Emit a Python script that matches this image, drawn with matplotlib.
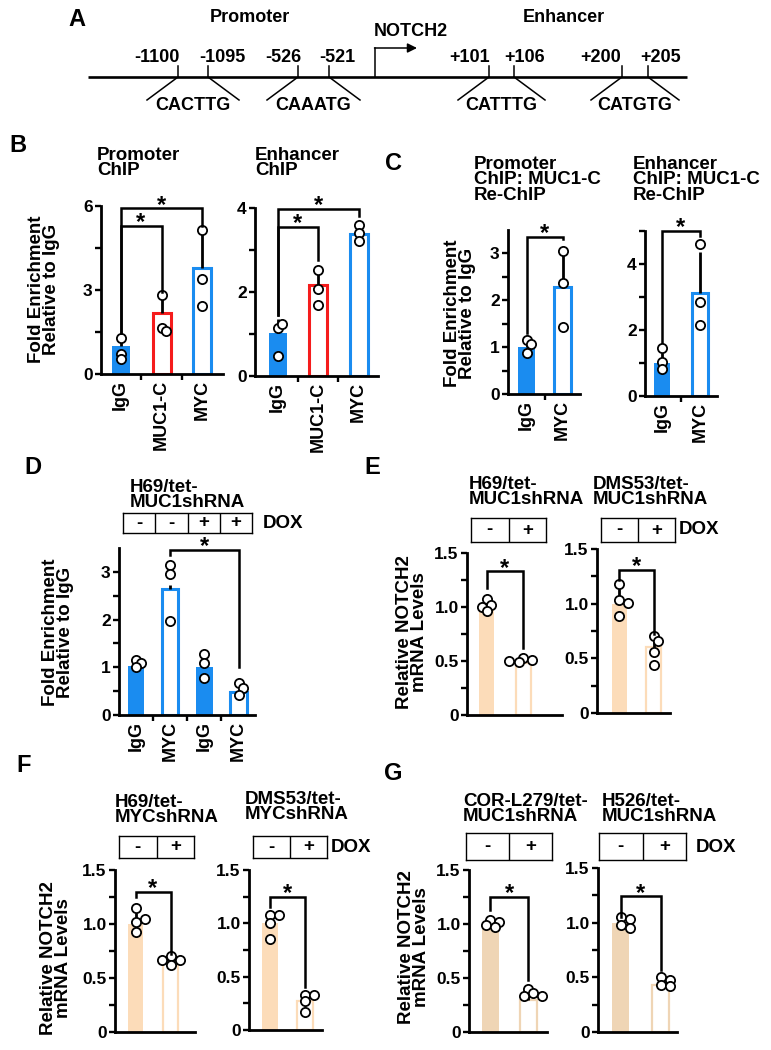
import matplotlib
matplotlib.use('Agg')
import matplotlib.pyplot as plt
import numpy as np

plt.rcParams['font.family'] = ['Liberation Sans', 'DejaVu Sans']
plt.rcParams['font.weight'] = 'bold'

# ---------------- data ----------------
# Panel A
a_regions = ["Promoter", "Enhancer"]
a_gene = "NOTCH2"
a_sites = ["-1100", "-1095", "-526", "-521", "+101", "+106", "+200", "+205"]
a_motifs = ["CACTTG", "CAAATG", "CATTTG", "CATGTG"]

# Panel B
b_cats = ["IgG", "MUC1-C", "MYC"]
b_prom_title = "Promoter\nChIP"
b_prom_mean = [1.0, 2.17, 3.79]
b_prom_sd = [0.3, 0.65, 1.3]
b_prom_pts = [[1.3, 0.72, 0.52], [2.82, 1.66, 1.52], [5.16, 3.39, 2.42]]
b_enh_title = "Enhancer\nChIP"
b_enh_mean = [1.02, 2.17, 3.38]
b_enh_sd = [0.33, 0.3, 0.2]
b_enh_pts = [[1.14, 1.24, 0.47], [2.52, 2.07, 1.69], [3.6, 3.4, 3.22]]

# Panel C
c_cats = ["IgG", "MYC"]
c_prom_title = "Promoter\nChIP: MUC1-C\nRe-ChIP"
c_prom_mean = [1.0, 2.28]
c_prom_sd = [0.1, 0.75]
c_prom_pts = [[1.15, 1.07, 0.87], [3.05, 2.37, 1.43]]
c_enh_title = "Enhancer\nChIP: MUC1-C\nRe-ChIP"
c_enh_mean = [1.0, 3.12]
c_enh_sd = [0.3, 1.25]
c_enh_pts = [[1.44, 1.02, 0.81], [4.6, 2.86, 2.14]]

# Panel D
d_title = "H69/tet-\nMUC1shRNA"
d_cats = ["IgG", "MYC", "IgG", "MYC"]
d_dox = ["-", "-", "+", "+"]
d_mean = [1.02, 2.65, 1.01, 0.48]
d_sd = [0.05, 0.08, 0.08, 0.05]
d_pts = [[1.15, 1.08, 1.0], [3.15, 2.95, 1.98], [1.28, 1.09, 0.78], [0.67, 0.57, 0.42]]

# Panels E-G (DOX - / +)
dox2 = ["-", "+"]
e1_title = "H69/tet-\nMUC1shRNA"
e1_mean = [1.0, 0.48]
e1_sd = [0.03, 0.02]
e1_pts = [[1.07, 1.02, 1.0, 0.96], [0.53, 0.51, 0.49, 0.5]]
e2_title = "DMS53/tet-\nMUC1shRNA"
e2_mean = [1.0, 0.6]
e2_sd = [0.13, 0.1]
e2_pts = [[1.18, 1.03, 1.01, 0.89], [0.7, 0.66, 0.56, 0.44]]
f1_title = "H69/tet-\nMYCshRNA"
f1_mean = [1.0, 0.64]
f1_sd = [0.1, 0.06]
f1_pts = [[1.15, 1.02, 1.05, 0.93], [0.7, 0.67, 0.67, 0.62]]
f2_title = "DMS53/tet-\nMYCshRNA"
f2_mean = [1.0, 0.27]
f2_sd = [0.08, 0.06]
f2_pts = [[1.08, 1.08, 1.0, 0.85], [0.33, 0.33, 0.27, 0.17]]
g1_title = "COR-L279/tet-\nMUC1shRNA"
g1_mean = [1.0, 0.3]
g1_sd = [0.03, 0.03]
g1_pts = [[1.04, 1.02, 0.99, 0.97], [0.4, 0.36, 0.33, 0.33]]
g2_title = "H526/tet-\nMUC1shRNA"
g2_mean = [1.0, 0.43]
g2_sd = [0.04, 0.04]
g2_pts = [[1.05, 1.03, 0.98, 0.95], [0.5, 0.48, 0.43, 0.42]]

fe_label = "Fold Enrichment\nRelative to IgG"
mrna_label = "Relative NOTCH2\nmRNA Levels"

# ---------------- style ----------------
BLUE = '#1a8cf0'
RED = '#f51c1c'
PEACH = '#fcdcb9'
TAN = '#efd5b5'
W, H = 771, 1050
fig = plt.figure(figsize=(W / 100, H / 100), dpi=100)
DIAM = 9.0  # marker diameter px


def swarm(vals, ppy, ppx):
    placed, offs = [], []
    for v in vals:
        y = v * ppy
        x = 0.0
        for k in [0, 1, -1, 2, -2, 3, -3]:
            x = k * 0.5 * DIAM
            if all((x - a) ** 2 + (y - b) ** 2 >= (0.62 * DIAM) ** 2 for a, b in placed):
                break
        placed.append((x, y))
        offs.append(x / ppx)
    return offs


def panel(x0, x1, y0, ytop, ymax, cfirst, clast, bw_px, means, sds, pts, faces, edges,
          major, minor, ticklabels=None, cats=None, brackets=(), elw=2.0):
    n = len(means)
    ax = fig.add_axes([x0 / W, 1 - y0 / H, (x1 - x0) / W, (y0 - ytop) / H])
    ax.patch.set_alpha(0)
    unit = (clast - cfirst) / (n - 1)
    ax.set_xlim((x0 - cfirst) / unit, (x1 - cfirst) / unit)
    ax.set_ylim(0, ymax)
    ppy = (y0 - ytop) / ymax
    for s in ['top', 'right']:
        ax.spines[s].set_visible(False)
    for s in ['left', 'bottom']:
        ax.spines[s].set_linewidth(2.0)
    ax.set_yticks(major)
    ax.set_yticklabels(ticklabels if ticklabels else [f"{v:g}" for v in major])
    ax.set_yticks(minor, minor=True)
    ax.tick_params(axis='y', which='both', direction='out', length=4, width=1.7,
                   labelsize=12.5, pad=2)
    bw = bw_px / unit
    for i in range(n):
        hollow = faces[i] == 'white'
        ax.bar(i, means[i], width=bw, color=faces[i],
               edgecolor=edges[i] if hollow else 'none',
               linewidth=elw if hollow else 0, zorder=2)
        ax.errorbar(i, means[i], yerr=[[0], [sds[i]]], fmt='none', ecolor='black',
                    elinewidth=2, capsize=0, zorder=3)
        offs = swarm(pts[i], ppy, unit)
        ax.scatter(np.array(offs) + i, pts[i], s=44, facecolor='white', edgecolor='black',
                   linewidths=1.3, zorder=4, clip_on=False)
    if cats:
        ax.set_xticks(range(n))
        ax.set_xticklabels(cats, rotation=90, fontsize=13)
        ax.set_xticks([i + 0.5 for i in range(n - 1)], minor=True)
        ax.tick_params(axis='x', which='major', length=0, pad=4)
        ax.tick_params(axis='x', which='minor', direction='out', length=4, width=1.7)
    else:
        ax.set_xticks([])
    for a, b, yb, la, lb in brackets:
        ax.plot([a, a, b, b], [la, yb, yb, lb], color='black', lw=1.8, clip_on=False,
                zorder=5, solid_joinstyle='miter')
        ax.annotate('*', xy=((a + b) / 2, yb), xytext=(0, -2.5), textcoords='offset points',
                    ha='center', va='baseline', fontsize=17, annotation_clip=False)
    return ax


def dox_box(x0, x1, ya, yb, labels):
    n = len(labels)
    bx = fig.add_axes([x0 / W, 1 - yb / H, (x1 - x0) / W, (yb - ya) / H])
    bx.set_xlim(0, n)
    bx.set_ylim(0, 1)
    bx.set_xticks([])
    bx.set_yticks([])
    for s in bx.spines.values():
        s.set_linewidth(1.0)
    for i in range(1, n):
        bx.axvline(i, color='black', lw=1.0)
    for i, lab in enumerate(labels):
        bx.text(i + 0.5, 0.5, lab, ha='center', va='center', fontsize=13.5)


# ---------------- Panel B ----------------
panel(101, 223, 374, 206, 6, 120.5, 202.5, 18, b_prom_mean, b_prom_sd, b_prom_pts,
      [BLUE, 'white', 'white'], [BLUE, RED, BLUE], [0, 3, 6], [1.5, 4.5], cats=b_cats,
      brackets=[(0, 1, 5.3, 1.45, 2.92), (0, 2, 5.92, 1.45, 5.3)], elw=2.2)
panel(255, 378, 376, 208, 4, 277.5, 358.5, 18, b_enh_mean, b_enh_sd, b_enh_pts,
      [BLUE, 'white', 'white'], [BLUE, RED, BLUE], [0, 2, 4], [1, 3], cats=b_cats,
      brackets=[(0, 1, 3.55, 1.45, 2.75), (0, 2, 3.98, 1.45, 3.8)], elw=2.2)

# ---------------- Panel C ----------------
panel(508, 580, 394, 394 - 3.5 * 47, 3.5, 526.5, 562.5, 17, c_prom_mean, c_prom_sd, c_prom_pts,
      [BLUE, 'white'], [BLUE, BLUE], [0, 1, 2, 3], [0.5, 1.5, 2.5], cats=c_cats,
      brackets=[(0, 1, 3.34, 1.3, 3.3)], elw=2.2)
panel(645, 717, 396, 231, 5, 662, 700, 16, c_enh_mean, c_enh_sd, c_enh_pts,
      [BLUE, 'white'], [BLUE, BLUE], [0, 2, 4], [1, 3, 5], cats=c_cats,
      brackets=[(0, 1, 5.0, 1.65, 4.85)], elw=2.2)

# ---------------- Panel D ----------------
panel(119, 255, 715, 715 - 3.5 * 47.7, 3.5, 136, 238.5, 16.5, d_mean, d_sd, d_pts,
      [BLUE, 'white', BLUE, 'white'], [BLUE] * 4, [0, 1, 2, 3], [0.5, 1.5, 2.5], cats=d_cats,
      brackets=[(1, 3, 3.46, 3.35, 1.0)], elw=2.2)
dox_box(123, 252, 513, 533, d_dox)

# ---------------- Panels E, F, G ----------------
mlab = ["0", "0.5", "1.0", "1.5"]
mmaj = [0, 0.5, 1.0, 1.5]
mmin = [0.25, 0.75, 1.25]
panel(467, 562, 715, 553, 1.5, 487, 523, 15, e1_mean, e1_sd, e1_pts, [PEACH, 'white'],
      [PEACH, PEACH], mmaj, mmin, mlab, brackets=[(0, 1, 1.33, 1.18, 0.62)], elw=1.6)
panel(597, 670, 713, 549, 1.5, 619, 653.5, 15, e2_mean, e2_sd, e2_pts, [PEACH, 'white'],
      [PEACH, PEACH], mmaj, mmin, mlab, brackets=[(0, 1, 1.31, 1.22, 0.72)], elw=1.6)
dox_box(471, 546, 518, 542, dox2)
dox_box(601, 675, 518, 542, dox2)

panel(115, 195, 1032, 870, 1.5, 135.5, 170.5, 15, f1_mean, f1_sd, f1_pts, [PEACH, 'white'],
      [PEACH, PEACH], mmaj, mmin, mlab, brackets=[(0, 1, 1.3, 1.25, 0.72)], elw=1.6)
panel(249, 322, 1030, 870, 1.5, 270, 305, 16, f2_mean, f2_sd, f2_pts, [PEACH, 'white'],
      [PEACH, PEACH], mmaj, mmin, mlab, brackets=[(0, 1, 1.25, 1.15, 0.4)], elw=1.6)
dox_box(119, 194, 836, 858, dox2)
dox_box(253, 327, 836, 858, dox2)

panel(469, 547, 1032, 870, 1.5, 490.5, 528.5, 17, g1_mean, g1_sd, g1_pts, [TAN, 'white'],
      [TAN, TAN], mmaj, mmin, mlab, brackets=[(0, 1, 1.25, 1.13, 0.48)], elw=1.6)
panel(598, 677, 1032, 868, 1.5, 620.5, 660.5, 17, g2_mean, g2_sd, g2_pts, [TAN, 'white'],
      [TAN, TAN], mmaj, mmin, mlab, brackets=[(0, 1, 1.24, 1.05, 0.57)], elw=1.6)
dox_box(466, 552, 833, 860, dox2)
dox_box(599, 686, 833, 860, dox2)

# ---------------- overlay (pixel coordinates) ----------------
ov = fig.add_axes([0, 0, 1, 1])
ov.set_xlim(0, W)
ov.set_ylim(H, 0)
ov.axis('off')
ov.patch.set_alpha(0)

# Panel A schematic
tick_x = [178, 208, 298, 329, 489, 514, 622, 648]
label_x = [157, 222, 283, 337, 470, 525, 601, 661]
ov.plot([88, 687], [77, 77], color='black', lw=1.9, solid_capstyle='butt')
for x, lab, lx in zip(tick_x, a_sites, label_x):
    ov.plot([x, x], [66, 77], color='black', lw=1.1)
    ov.text(lx, 57, lab, ha='center', va='center', fontsize=13)
for j, motif in enumerate(a_motifs):
    xl, xr = tick_x[2 * j], tick_x[2 * j + 1]
    ov.plot([xl, xl - 31], [77, 100], color='black', lw=1.1)
    ov.plot([xr, xr + 31], [77, 100], color='black', lw=1.1)
    ov.text((xl + xr) / 2, 106, motif, ha='center', va='center', fontsize=13)
ov.plot([375, 375], [77, 48], color='black', lw=1.1)
ov.annotate('', xy=(417, 48), xytext=(374.5, 48),
            arrowprops=dict(arrowstyle='-|>', lw=1.1, color='black', mutation_scale=14,
                            shrinkA=0, shrinkB=0))
ov.text(411, 31, a_gene, ha='center', va='center', fontsize=13)
ov.text(250, 17, a_regions[0], ha='center', va='center', fontsize=13)
ov.text(564, 17, a_regions[1], ha='center', va='center', fontsize=13)

# panel letters
for letter, (x, y) in zip("ABCDEFG", [(77, 20), (18, 145), (394, 163), (33, 467),
                                      (372, 467), (24, 765), (393, 773)]):
    ov.text(x, y, letter, ha='center', va='center', fontsize=17)

# titles
TS = 13.5
LS = 0.92
ov.text(97, 163, b_prom_title, ha='left', va='center', fontsize=TS, linespacing=LS)
ov.text(255, 163, b_enh_title, ha='left', va='center', fontsize=TS, linespacing=LS)
ov.text(474, 180, c_prom_title, ha='left', va='center', fontsize=TS, linespacing=LS)
ov.text(633, 180, c_enh_title, ha='left', va='center', fontsize=TS, linespacing=LS)
ov.text(130, 495, d_title, ha='left', va='center', fontsize=TS, linespacing=LS)
ov.text(469, 492, e1_title, ha='left', va='center', fontsize=TS, linespacing=LS)
ov.text(593, 492, e2_title, ha='left', va='center', fontsize=TS, linespacing=LS)
ov.text(115, 810, f1_title, ha='left', va='center', fontsize=TS, linespacing=LS)
ov.text(245, 807, f2_title, ha='left', va='center', fontsize=TS, linespacing=LS)
ov.text(463, 809, g1_title, ha='left', va='center', fontsize=TS, linespacing=LS)
ov.text(602, 809, g2_title, ha='left', va='center', fontsize=TS, linespacing=LS)

# DOX labels
for x, y in [(263, 523), (679, 530), (331, 847), (696, 847)]:
    ov.text(x, y, "DOX", ha='left', va='center', fontsize=TS)

# y labels
for x, y, lab in [(44, 289, fe_label), (460, 313, fe_label), (58, 632, fe_label),
                  (412, 632, mrna_label), (56, 958, mrna_label), (414, 947, mrna_label)]:
    ov.text(x, y, lab, ha='center', va='center', rotation=90, fontsize=TS,
            linespacing=LS, multialignment='center')

fig.savefig('out.png', dpi=100)
